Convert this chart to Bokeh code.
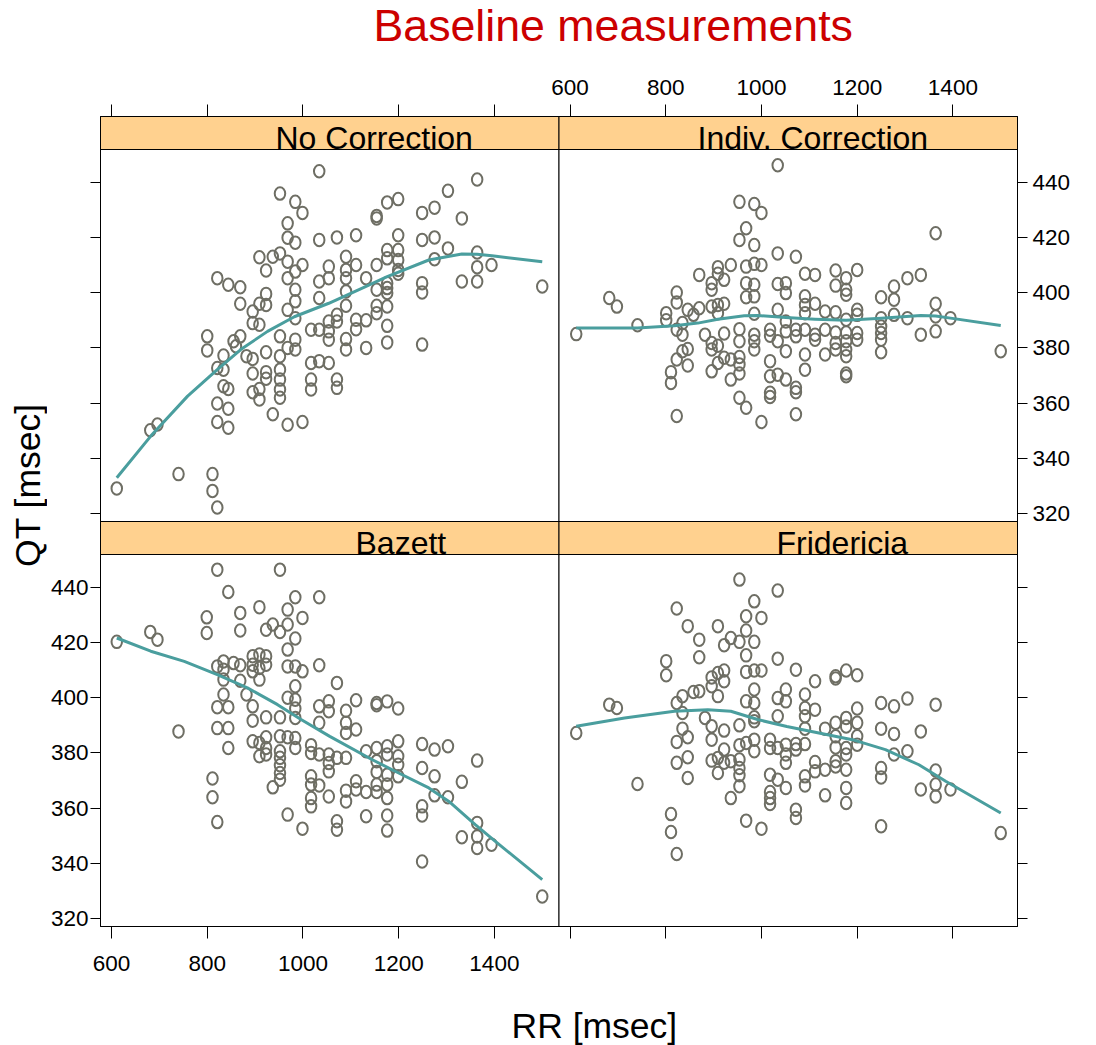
import math
from bokeh.plotting import figure
from bokeh.layouts import column, row
from bokeh.models import Range1d, LinearAxis, FixedTicker, CustomJSTickFormatter
from bokeh.core.properties import value
from bokeh.embed import file_html
from bokeh.resources import INLINE

# ---------------- data ----------------
main_title = "Baseline measurements"
x_label = "RR [msec]"
y_label = "QT [msec]"
panel_names = ["No Correction", "Indiv. Correction", "Bazett", "Fridericia"]
x_ticks = [600, 800, 1000, 1200, 1400]
y_ticks = [320, 340, 360, 380, 400, 420, 440]

nc_rr = [1034, 952, 984, 999, 968, 968, 984, 1034, 909, 937,
         952, 968, 923, 999, 984, 968, 984, 1034, 821, 844,
         869, 869, 923, 923, 909, 895, 895, 909, 984, 968,
         984, 1034, 1017, 1034, 800, 800, 855, 869, 860, 882,
         895, 923, 952, 952, 984, 984, 968, 821, 834, 834,
         834, 844, 895, 923, 923, 909, 895, 909, 952, 952,
         952, 952, 1017, 1017, 1017, 1034, 821, 844, 821, 844,
         937, 968, 999, 681, 696, 740, 811, 811, 821, 611,
         1364, 1303, 1199, 1176, 1154, 1154, 1275, 1249, 1332, 1071,
         1111, 1199, 1249, 1275, 1303, 1364, 1176, 1199, 1090, 1111,
         1154, 1176, 1199, 1199, 1199, 1275, 1364, 1394, 1332, 1364,
         1500, 1054, 1054, 1090, 1090, 1090, 1132, 1154, 1176, 1176,
         1176, 1176, 1249, 1249, 1090, 1154, 1154, 1071, 1071, 1111,
         1111, 1132, 1176, 1054, 1054, 1054, 1090, 1090, 1132, 1176,
         1249, 1054, 1071, 1071]
nc_qt = [444.1, 436.0, 433.0, 429.0, 425.2, 420.0, 418.2, 419.2, 412.9, 413.1,
         414.3, 411.3, 408.1, 410.1, 407.7, 405.3, 401.1, 404.1, 405.3, 402.9,
         402.0, 396.0, 399.6, 395.6, 396.0, 393.2, 389.0, 388.4, 396.9, 393.8,
         390.8, 398.1, 386.6, 386.6, 384.2, 379.1, 382.4, 384.2, 380.6, 377.0,
         376.0, 378.4, 384.2, 377.0, 383.0, 379.4, 380.0, 372.7, 377.2, 372.1,
         366.1, 365.1, 370.7, 371.2, 368.8, 365.1, 363.9, 361.3, 372.1, 368.5,
         364.9, 361.9, 374.5, 368.5, 364.9, 375.2, 359.8, 357.9, 353.1, 351.0,
         355.9, 352.1, 353.1, 350.1, 352.2, 334.2, 334.2, 328.1, 322.1, 329.0,
         441.1, 437.0, 434.0, 432.8, 427.9, 427.0, 430.9, 429.0, 427.0, 420.1,
         420.9, 420.9, 419.2, 420.1, 416.1, 414.6, 415.5, 415.5, 413.1, 410.1,
         410.1, 412.5, 411.9, 408.3, 406.9, 412.2, 409.3, 410.1, 404.1, 404.1,
         402.3, 409.5, 405.3, 408.3, 405.3, 400.5, 405.3, 401.1, 403.5, 401.7,
         399.9, 395.0, 403.5, 400.1, 395.3, 395.3, 392.6, 392.0, 389.6, 390.2,
         386.8, 390.0, 388.0, 389.6, 386.0, 383.0, 383.2, 379.4, 380.0, 382.0,
         381.2, 374.5, 368.5, 365.5]
nc_fit_rr = [611, 682, 759, 821, 870, 926, 982, 1054, 1124, 1176, 1263, 1332, 1364, 1395, 1500]
nc_fit_qt = [332.9, 348.0, 362.5, 372.1, 379.4, 386.0, 391.3, 396.2, 401.7, 405.9, 411.9, 414.1, 414.0, 413.4, 411.3]

ic_rr = [1034, 954, 985, 1000, 968, 954, 985, 1034, 936, 909,
         968, 985, 1000, 870, 909, 922, 896, 896, 968, 985,
         1034, 682, 698, 823, 823, 801, 801, 846, 858, 870,
         896, 909, 909, 922, 968, 985, 985, 1034, 613, 741,
         823, 835, 835, 882, 922, 954, 954, 985, 985, 985,
         1018, 1018, 1034, 835, 846, 846, 823, 811,
         811, 896, 896, 909, 896, 909, 922, 936, 954, 954,
         936, 954, 1018, 1018, 1034, 1018, 1018, 954, 968,
         1000, 823,
         1364, 1072, 1091, 1112, 1155, 1177, 1200, 1155, 1177, 1177,
         1305, 1333, 1277, 1250, 1277, 1051, 1051, 1091, 1091, 1091,
         1112, 1133, 1155, 1177, 1200, 1200, 1250, 1277, 1305, 1364,
         1364, 1395, 1051, 1051, 1072, 1072, 1091, 1112, 1112, 1133,
         1155, 1155, 1177, 1177, 1200, 1200, 1250, 1250, 1250, 1250,
         1333, 1364, 1500, 1051, 1091, 1091, 1133, 1155, 1177, 1177,
         1177, 1177, 1051, 1072, 1072, 1072]
ic_qt = [446.3, 433.0, 432.2, 429.0, 423.4, 419.2, 417.3, 414.3, 410.1, 409.3,
         409.5, 410.5, 410.1, 406.5, 406.9, 404.7, 403.5, 401.1, 403.5, 402.9,
         403.2, 398.1, 395.0, 400.1, 396.5, 392.6, 390.0, 393.8, 392.0, 394.4,
         395.0, 395.6, 392.6, 396.0, 398.4, 398.7, 392.4, 393.8, 385.0, 388.2,
         386.6, 389.0, 384.8, 384.8, 385.2, 386.8, 382.4, 384.8, 382.4, 379.4,
         386.6, 384.4, 382.4, 378.8, 379.6, 373.6, 375.8, 371.2,
         367.3, 381.8, 379.4, 380.8, 371.5, 374.5, 376.4, 375.8, 376.7, 374.0,
         368.5, 370.7, 375.2, 369.7, 370.3, 363.7, 362.2, 361.9, 358.3,
         353.1, 355.3,
         421.6, 413.1, 406.9, 406.5, 408.1, 405.3, 408.3, 402.6, 401.1, 399.3,
         405.3, 406.5, 402.3, 398.4, 397.5, 403.5, 399.9, 398.7, 395.6, 392.6,
         396.0, 393.2, 392.9, 390.2, 393.8, 392.0, 390.8, 392.0, 390.8, 396.0,
         391.4, 390.8, 389.6, 386.0, 386.6, 384.2, 386.6, 384.8, 383.0, 386.6,
         385.6, 381.8, 385.6, 382.4, 385.4, 383.0, 387.8, 385.4, 383.0, 378.4,
         384.8, 386.0, 378.8, 378.8, 377.6, 372.1, 377.6, 379.4, 379.4, 377.0,
         370.7, 369.7, 368.5, 365.5, 363.9, 355.9]
ic_fit_rr = [613, 741, 818, 867, 909, 964, 992, 1051, 1112, 1177, 1250, 1333, 1364, 1395, 1500]
ic_fit_qt = [387.2, 387.2, 388.0, 389.0, 390.4, 391.7, 391.8, 391.0, 390.4, 390.0, 390.8, 391.8, 391.6, 390.8, 388.1]

bz_rr = [821, 952, 844, 984, 1034, 909, 968, 869, 999, 799,
         799, 869, 923, 937, 952, 968, 984, 968, 611, 681,
         696, 821, 834, 834, 855, 869, 895, 909, 923, 895,
         909, 923, 895, 968, 984, 999, 1034, 834, 869, 909,
         984, 834, 882, 968, 984, 821, 844, 895, 984, 984,
         1034, 895, 923, 952, 1034, 740, 821, 844,
         844, 895, 923, 952, 968, 984, 984, 909, 923, 909,
         923, 952, 952, 952, 952, 952, 1017, 1017, 1034,
         1017, 1017, 1034, 1017, 1017, 937, 811, 811,
         821, 968, 999,
         1071, 1054, 1054, 1111, 1090, 1090, 1090, 1111, 1154, 1154,
         1176, 1199, 1199, 1199, 1199, 1199, 1176, 1176, 1154, 1154,
         1154, 1132, 1176, 1176, 1176, 1176, 1176, 1132, 1154, 1154,
         1132, 1111, 1111, 1090, 1090, 1054, 1054, 1054, 1071, 1090,
         1054, 1071, 1071, 1249, 1275, 1303, 1364, 1249, 1275, 1332,
         1275, 1303, 1249, 1249, 1364, 1332, 1364, 1364, 1394, 1249,
         1500]
bz_qt = [446.5, 446.5, 438.4, 436.5, 436.5, 432.9, 432.0, 430.8, 429.0, 429.2,
         423.5, 424.4, 424.7, 426.6, 423.9, 426.6, 421.5, 417.5, 420.3, 423.9,
         421.1, 411.4, 413.2, 410.2, 412.6, 411.8, 415.1, 415.7, 415.1, 412.0,
         410.8, 412.0, 409.6, 411.4, 411.4, 409.6, 411.8, 406.6, 406.2, 406.6,
         404.2, 401.2, 401.2, 400.0, 399.3, 396.6, 396.6, 396.9, 396.1, 392.7,
         396.9, 391.7, 392.9, 392.9, 390.9, 387.8, 389.0, 389.0,
         381.8, 384.2, 385.7, 386.0, 385.7, 385.4, 381.8, 383.6, 381.8, 378.8,
         379.4, 380.6, 378.2, 375.5, 372.7, 370.3, 382.8, 380.0, 379.4,
         371.5, 368.5, 368.2, 363.6, 360.6, 367.5, 370.7, 363.9,
         354.9, 357.6, 352.5,
         405.4, 398.7, 395.1, 399.1, 395.3, 390.9, 387.2, 388.5, 398.1, 397.3,
         398.7, 396.1, 384.2, 378.8, 375.7, 371.5, 382.4, 379.4, 381.8, 377.0,
         373.1, 380.6, 372.1, 368.5, 363.6, 357.3, 351.8, 357.0, 368.5, 365.8,
         365.8, 369.7, 366.7, 366.3, 362.4, 379.4, 376.3, 373.3, 378.2, 378.2,
         364.2, 355.2, 352.1, 383.2, 381.2, 382.4, 377.2, 374.5, 371.5, 369.5,
         364.6, 363.9, 360.6, 357.3, 354.6, 349.4, 349.7, 345.5, 346.7, 340.6,
         327.9]
bz_fit_rr = [611, 682, 752, 821, 884, 947, 996, 1056, 1144, 1200, 1263, 1305, 1360, 1402, 1500]
bz_fit_qt = [421.7, 416.9, 413.2, 408.4, 403.6, 397.5, 392.1, 386.0, 377.6, 372.7, 367.3, 362.4, 354.0, 347.9, 334.0]

fr_rr = [954, 1034, 985, 823, 968, 1000, 846, 909, 968, 936,
         954, 985, 922, 870, 870, 968, 1034, 801, 801, 896,
         909, 922, 922, 896, 909, 968, 985, 1000, 985, 858,
         870, 835, 823, 968, 985, 682, 698, 835, 882, 896,
         985, 985, 954, 1034, 1034, 613, 835, 846, 823, 896,
         922, 954, 968, 985, 985, 1018, 1018, 1034, 823, 846,
         846, 896, 909, 922, 922, 909, 936, 954, 954, 954,
         954, 1018, 1034, 1018, 1018, 1018, 936, 741, 811, 811,
         823, 968, 1000,
         1072, 1112, 1155, 1155, 1177, 1200, 1051, 1051, 1091, 1091,
         1091, 1112, 1091, 1091, 1072, 1072, 1051, 1051, 1051, 1133,
         1155, 1155, 1155, 1177, 1177, 1177, 1177, 1200, 1200, 1200,
         1200, 1112, 1112, 1133, 1155, 1155, 1177, 1177, 1177, 1133,
         1091, 1091, 1051, 1072, 1072, 1250, 1277, 1305, 1364, 1250,
         1277, 1333, 1277, 1305, 1250, 1250, 1364, 1364, 1364, 1333,
         1395, 1250, 1500]
fr_qt = [442.9, 438.9, 435.0, 432.4, 429.6, 429.0, 426.0, 426.0, 424.4, 421.7,
         420.3, 420.3, 419.1, 421.1, 414.7, 415.4, 414.2, 413.3, 408.2, 407.4,
         409.0, 409.9, 406.0, 404.2, 400.6, 409.4, 409.9, 409.9, 403.0, 402.1,
         402.4, 400.6, 398.1, 398.7, 398.1, 397.5, 396.3, 394.5, 392.7, 389.7,
         392.9, 391.5, 390.0, 393.3, 399.9, 387.2, 388.8, 385.7, 384.0, 384.8,
         388.1, 382.8, 383.6, 384.8, 380.6, 384.8, 381.8, 381.8, 376.4, 378.4,
         370.9, 377.2, 378.2, 381.2, 376.4, 372.7, 377.0, 377.6, 374.5, 371.9,
         367.9, 372.1, 370.3, 365.8, 363.6, 361.5, 363.6, 368.7, 357.8, 351.3,
         343.3, 355.4, 352.5,
         410.2, 406.0, 407.8, 407.0, 409.9, 408.2, 403.0, 398.7, 401.2, 396.3,
         393.3, 395.7, 388.8, 383.2, 383.2, 381.2, 383.0, 379.4, 376.4, 388.8,
         390.9, 386.0, 382.0, 392.7, 389.6, 381.8, 379.4, 396.1, 390.9, 386.0,
         383.0, 376.7, 373.3, 373.9, 377.0, 375.1, 373.9, 367.3, 361.8, 364.6,
         371.5, 368.2, 367.3, 359.4, 356.4, 398.1, 396.9, 399.7, 397.5, 388.8,
         386.9, 387.8, 379.4, 380.6, 374.5, 371.1, 373.6, 368.5, 364.2, 366.7,
         366.7, 353.4, 350.9]
fr_fit_rr = [613, 714, 818, 888, 936, 992, 1053, 1120, 1190, 1259, 1329, 1385, 1500]
fr_fit_qt = [389.7, 392.7, 395.1, 395.7, 395.1, 392.1, 389.6, 387.2, 384.8, 381.2, 375.7, 369.7, 358.2]

# ---------------- layout constants (page pixels) ----------------
W, H = 1096, 1045
TOP_H = 60          # title band
BOT_H = 50          # x-label band
LEFT_W = 47         # y-label band
FL, FR, FT, FB = 100, 1017, 116, 926   # frame of the panel grid (page px)
XMID = 558.5
ROWH = 405
STRIP = 33
X0, X1 = 577.0, 1535.0
Y0, Y1 = 317.0, 452.0
BASE_SHIFT = 0.35   # bokeh text anchor correction (em)

PT_COL = "#6e6e64"
LN_COL = "#4a9e9e"
STRIP_COL = "#ffd18f"
TITLE_COL = "#cc0000"
FONT = "Liberation Sans"


def blank(w, h, xr, yr):
    f = figure(width=w, height=h, x_range=xr, y_range=yr, output_backend="svg",
               toolbar_location=None, x_axis_location=None, y_axis_location=None,
               min_border=0, min_border_left=0, min_border_right=0,
               min_border_top=0, min_border_bottom=0)
    f.grid.grid_line_color = None
    f.outline_line_color = None
    f.background_fill_color = "white"
    f.border_fill_color = "white"
    return f


mid_h = H - TOP_H - BOT_H

# title band
tf = blank(W, TOP_H, Range1d(0, W), Range1d(TOP_H, 0))
tf.text(x=[373], y=[41 - BASE_SHIFT * 44.7], text=[main_title], text_font=value(FONT),
        text_font_size=value("44.7px"), text_color=TITLE_COL,
        text_align="left", text_baseline="alphabetic")

# y-label band
lf = blank(LEFT_W, mid_h, Range1d(0, LEFT_W), Range1d(TOP_H + mid_h, TOP_H))
lf.text(x=[39.5 - BASE_SHIFT * 35.5], y=[580], text=[y_label], angle=math.pi / 2,
        text_font=value(FONT), text_font_size=value("35.5px"), text_color="black",
        text_align="left", text_baseline="alphabetic")

# x-label band
bf = blank(W, BOT_H, Range1d(0, W), Range1d(H, H - BOT_H))
bf.text(x=[511], y=[1038 - BASE_SHIFT * 35.5], text=[x_label], text_font=value(FONT),
        text_font_size=value("35.5px"), text_color="black",
        text_align="left", text_baseline="alphabetic")

# main panel grid
p = figure(width=W - LEFT_W, height=mid_h, x_range=Range1d(FL, FR), y_range=Range1d(FB, FT),
           output_backend="svg", toolbar_location=None,
           x_axis_location=None, y_axis_location=None,
           min_border_left=FL - LEFT_W, min_border_right=W - FR,
           min_border_top=FT - TOP_H, min_border_bottom=TOP_H + mid_h - FB)
p.grid.grid_line_color = None
p.outline_line_color = "black"
p.outline_line_width = 1
p.background_fill_color = "white"
p.border_fill_color = "white"

cols = [(FL, XMID), (XMID, FR)]
panels = [
    (0, 0, nc_rr, nc_qt, nc_fit_rr, nc_fit_qt),
    (1, 0, ic_rr, ic_qt, ic_fit_rr, ic_fit_qt),
    (0, 1, bz_rr, bz_qt, bz_fit_rr, bz_fit_qt),
    (1, 1, fr_rr, fr_qt, fr_fit_rr, fr_fit_qt),
]
strip_text_x = [275, 697, 355, 776]

sl, sr, st, sb = [], [], [], []
for (c, r, *_rest) in panels:
    sl.append(cols[c][0]); sr.append(cols[c][1])
    st.append(FT + r * ROWH); sb.append(FT + r * ROWH + STRIP)
p.quad(left=sl, right=sr, top=st, bottom=sb, fill_color=STRIP_COL, line_color="black", line_width=1)
p.text(x=strip_text_x, y=[b - BASE_SHIFT * 32 for b in sb], text=panel_names,
       text_font=value(FONT), text_font_size=value("32px"), text_color="black",
       text_align="left", text_baseline="alphabetic")
pb = [FT + (r + 1) * ROWH for (c, r, *_rest) in panels]
p.quad(left=sl, right=sr, top=sb, bottom=pb, fill_color="white", line_color="black", line_width=1)

for (c, r, rr, qt, frr, fqt) in panels:
    xy = p.subplot(x_source=Range1d(X0, X1), y_source=Range1d(Y0, Y1),
                   x_target=Range1d(cols[c][0], cols[c][1]),
                   y_target=Range1d(FT + (r + 1) * ROWH, FT + r * ROWH + STRIP))
    xy.ellipse(x=rr, y=qt, width=10.5, height=12.5, width_units="screen", height_units="screen",
               fill_color=None, line_color=PT_COL, line_width=2)
    xy.line(x=frr, y=fqt, line_color=LN_COL, line_width=3, line_join="round")

# ---------------- axes ----------------
kx = (X1 - X0) / (XMID - FL)
XOFF = X1 - X0
ky = (Y1 - Y0) / (ROWH - STRIP)
YOFF = ROWH * ky
p.extra_x_ranges = {"xa": Range1d(X0, X0 + (FR - FL) * kx)}
p.extra_y_ranges = {"ya": Range1d(Y0, Y0 + (FB - FT) * ky)}

xt = list(x_ticks) + [v + XOFF for v in x_ticks]
yt = list(y_ticks) + [v + YOFF for v in y_ticks]


def style(ax, tick_out, standoff):
    ax.axis_line_color = "black"
    ax.axis_line_width = 1
    ax.major_tick_line_color = "black"
    ax.major_tick_line_width = 1
    ax.major_tick_in = 0
    ax.major_tick_out = tick_out
    ax.minor_tick_line_color = None
    ax.major_label_text_font = FONT
    ax.major_label_text_font_size = "22.5px"
    ax.major_label_text_color = "black"
    ax.major_label_standoff = standoff


bottom = LinearAxis(x_range_name="xa", ticker=FixedTicker(ticks=xt),
                    formatter=CustomJSTickFormatter(code="return tick < %f ? tick.toFixed(0) : '';" % (X1 + 1)))
style(bottom, 12, 17)
p.add_layout(bottom, "below")

top = LinearAxis(x_range_name="xa", ticker=FixedTicker(ticks=xt),
                 formatter=CustomJSTickFormatter(code="return tick > %f ? (tick - %f).toFixed(0) : '';" % (X1 + 1, XOFF)))
style(top, 12, 10)
p.add_layout(top, "above")

left = LinearAxis(y_range_name="ya", ticker=FixedTicker(ticks=yt),
                  formatter=CustomJSTickFormatter(code="return tick < %f ? tick.toFixed(0) : '';" % (Y1 + 1)))
style(left, 10, 2)
p.add_layout(left, "left")

right = LinearAxis(y_range_name="ya", ticker=FixedTicker(ticks=yt),
                   formatter=CustomJSTickFormatter(code="return tick > %f ? (tick - %f).toFixed(0) : '';" % (Y1 + 1, YOFF)))
style(right, 10, 5)
p.add_layout(right, "right")

layout = column(tf, row(lf, p), bf)
open("out.html", "w").write(file_html(layout, INLINE))
